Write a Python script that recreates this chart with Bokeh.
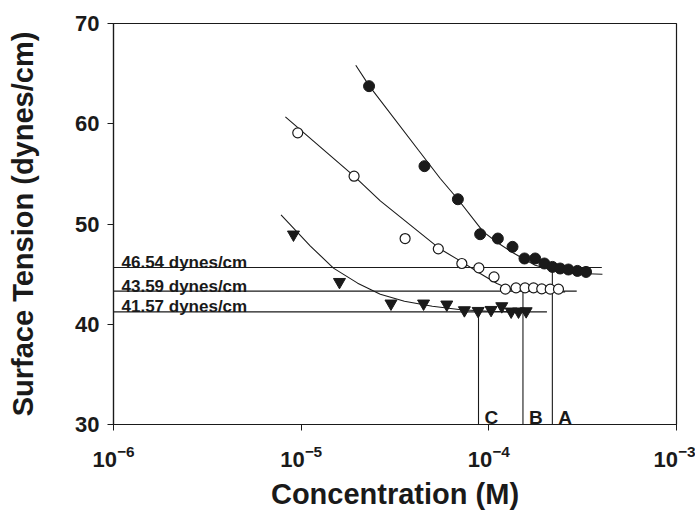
from bokeh.plotting import figure
from bokeh.models import FixedTicker, ColumnDataSource
from bokeh.core.properties import value
from bokeh.embed import file_html
from bokeh.resources import INLINE

# ---- data ----
conc_A = [2.30e-5, 4.54e-5, 6.84e-5, 8.99e-5, 1.117e-4, 1.337e-4, 1.549e-4, 1.766e-4,
          1.977e-4, 2.183e-4, 2.399e-4, 2.655e-4, 2.965e-4, 3.296e-4]
tension_A = [63.75, 55.77, 52.47, 48.98, 48.55, 47.72, 46.56, 46.56,
             46.06, 45.72, 45.56, 45.46, 45.32, 45.22]

conc_B = [9.59e-6, 1.914e-5, 3.58e-5, 5.38e-5, 7.18e-5, 8.85e-5, 1.066e-4, 1.225e-4,
          1.396e-4, 1.559e-4, 1.730e-4, 1.914e-4, 2.124e-4, 2.35e-4]
tension_B = [59.09, 54.77, 48.55, 47.52, 46.06, 45.62, 44.72, 43.50,
             43.63, 43.63, 43.63, 43.53, 43.50, 43.50]

conc_C = [9.10e-6, 1.600e-5, 3.01e-5, 4.49e-5, 5.97e-5, 7.41e-5, 8.77e-5, 1.028e-4,
          1.172e-4, 1.315e-4, 1.439e-4, 1.581e-4]
tension_C = [48.95, 44.22, 42.07, 42.07, 41.97, 41.40, 41.33, 41.43,
             41.80, 41.27, 41.27, 41.30]

fit_A_conc = [1.954e-5, 2.31e-5, 4.22e-5, 5.51e-5, 6.84e-5, 9.35e-5, 1.12e-4, 1.352e-4,
              1.766e-4, 2.21e-4, 3.06e-4, 4.03e-4]
fit_A_tension = [65.84, 63.75, 57.36, 54.54, 52.47, 49.21, 48.1, 47.1,
                 45.89, 45.39, 45.06, 44.99]

fit_B_conc = [8.24e-6, 1.914e-5, 2.64e-5, 5.51e-5, 7.18e-5, 8.99e-5, 1.104e-4, 1.247e-4,
              1.528e-4, 2.04e-4, 2.55e-4]
fit_B_tension = [60.68, 54.77, 52.3, 47.5, 46.22, 45.06, 44.06, 43.63,
                 43.33, 43.23, 43.23]

fit_C_conc = [7.81e-6, 1.12e-5, 1.486e-5, 2.0e-5, 2.64e-5, 3.55e-5, 5.0e-5, 7.1e-5,
              1.0e-4, 1.59e-4]
fit_C_tension = [50.9, 47.8, 45.6, 44.1, 43.0, 42.3, 41.8, 41.45, 41.3, 41.2]

cmc_names = ["A", "B", "C"]
cmc_conc = [2.18e-4, 1.52e-4, 8.81e-5]
cmc_tension = [45.66, 43.30, 41.23]
plateau_end = [4.0e-4, 2.94e-4, 2.04e-4]
plateau_labels = ["46.54 dynes/cm", "43.59 dynes/cm", "41.57 dynes/cm"]

x_ticks = [1e-6, 1e-5, 1e-4, 1e-3]
y_ticks = [30, 40, 50, 60, 70]

INK = "#1a1a1a"
FONT = value("Liberation Sans")

p = figure(width=695, height=513, x_axis_type="log",
           x_range=(1e-6, 1e-3), y_range=(30, 70),
           output_backend="svg", toolbar_location=None,
           min_border_left=113, min_border_right=19,
           min_border_top=23, min_border_bottom=89)

p.xgrid.visible = False
p.ygrid.visible = False
p.outline_line_color = INK
p.outline_line_width = 1.2
p.background_fill_color = "white"
p.border_fill_color = "white"

p.xaxis.ticker = FixedTicker(ticks=x_ticks, minor_ticks=[])
p.yaxis.ticker = FixedTicker(ticks=y_ticks, minor_ticks=[])
for ax in (p.xaxis[0], p.yaxis[0]):
    ax.axis_line_color = INK
    ax.axis_line_width = 1.2
    ax.major_tick_line_color = INK
    ax.major_tick_out = 6
    ax.major_tick_in = 0
    ax.minor_tick_line_color = None
    ax.major_label_text_font = "Liberation Sans"
    ax.major_label_text_font_style = "bold"
    ax.major_label_text_font_size = "22px"
    ax.major_label_text_color = INK
    ax.axis_label_text_font = "Liberation Sans"
    ax.axis_label_text_font_style = "bold"
    ax.axis_label_text_font_size = "29px"
    ax.axis_label_text_color = INK

p.yaxis.major_label_standoff = 8
p.xaxis.major_label_standoff = 14
p.yaxis.axis_label = "Surface Tension (dynes/cm)"
p.yaxis.axis_label_standoff = 33
p.xaxis.axis_label = "Concentration (M)"
p.xaxis.axis_label_standoff = 8

# fitted curves
p.line(fit_A_conc, fit_A_tension, line_color=INK, line_width=1.1)
p.line(fit_B_conc, fit_B_tension, line_color=INK, line_width=1.1)
p.line(fit_C_conc, fit_C_tension, line_color=INK, line_width=1.1)

# plateau and cmc lines
ref = ColumnDataSource(dict(
    name=cmc_names, cmc=cmc_conc, t=cmc_tension, end=plateau_end,
    label=plateau_labels,
    start=[x_ticks[0]] * len(cmc_conc), floor=[y_ticks[0]] * len(cmc_conc),
))
p.segment(x0="start", y0="t", x1="end", y1="t", source=ref, line_color=INK, line_width=1.1)
p.segment(x0="cmc", y0="floor", x1="cmc", y1="t", source=ref, line_color=INK, line_width=1.1)

p.text(x="start", y="t", text="label", source=ref, x_offset=8, y_offset=-5,
       text_font=FONT, text_font_style="bold", text_font_size="17px",
       text_color=INK, text_baseline="alphabetic", text_align="left")
p.text(x="cmc", y="floor", text="name", source=ref, x_offset=6, y_offset=-7,
       text_font=FONT, text_font_style="bold", text_font_size="19px",
       text_color=INK, text_baseline="alphabetic", text_align="left")

# data points
p.scatter(conc_A, tension_A, marker="circle", size=11,
          fill_color=INK, line_color=INK)
p.scatter(conc_B, tension_B, marker="circle", size=10,
          fill_color="white", line_color=INK, line_width=1.2)
p.scatter(conc_C, tension_C, marker="inverted_triangle", size=12,
          fill_color=INK, line_color=INK)

open("out.html", "w").write(file_html(p, INLINE))
